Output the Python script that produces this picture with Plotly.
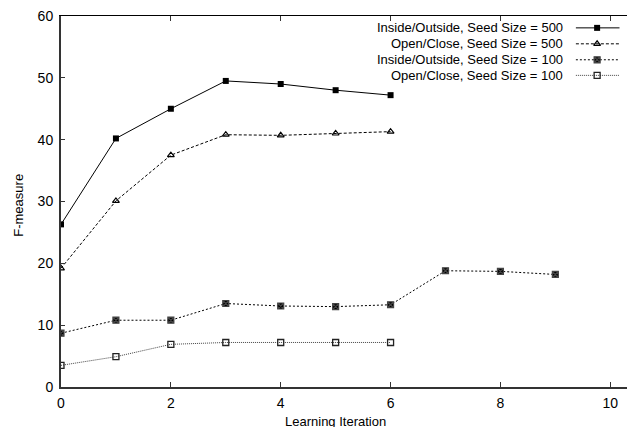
import plotly.graph_objects as go

iterations_a = [0, 1, 2, 3, 4, 5, 6]
iterations_b = [0, 1, 2, 3, 4, 5, 6, 7, 8, 9]
inout_500 = [26.3, 40.2, 45.0, 49.5, 49.0, 48.0, 47.2]
openclose_500 = [19.2, 30.1, 37.5, 40.8, 40.7, 41.0, 41.3]
inout_100 = [8.7, 10.8, 10.8, 13.5, 13.1, 13.0, 13.3, 18.8, 18.7, 18.2]
openclose_100 = [3.5, 4.9, 6.9, 7.2, 7.2, 7.2, 7.2]
series_names = [
    "Inside/Outside, Seed Size = 500",
    "Open/Close, Seed Size = 500",
    "Inside/Outside, Seed Size = 100",
    "Open/Close, Seed Size = 100",
]
x_ticks = [0, 2, 4, 6, 8, 10]
y_ticks = [0, 10, 20, 30, 40, 50, 60]

FONT = "Liberation Sans, Arial, Helvetica, sans-serif"
FS = 13
FS_TICK = 14

styles = [
    dict(line=dict(color="black", width=1, dash="solid"),
         marker=dict(symbol="square", size=6, color="black")),
    dict(line=dict(color="black", width=1, dash="3px,2px"),
         marker=dict(symbol="triangle-up-open", size=6, color="black", line=dict(width=1.2, color="black"))),
    dict(line=dict(color="black", width=1, dash="2px,2px"),
         marker=dict(symbol="square-x", size=6, color="black", line=dict(width=1.2, color="#444"))),
    dict(line=dict(color="#444", width=1, dash="1px,1px"),
         marker=dict(symbol="square-open", size=6, color="#222", line=dict(width=1.3, color="#222"))),
]
xs_list = [iterations_a, iterations_a, iterations_b, iterations_a]
ys_list = [inout_500, openclose_500, inout_100, openclose_100]

fig = go.Figure()
for xs, ys, st in zip(xs_list, ys_list, styles):
    fig.add_trace(go.Scatter(x=xs, y=ys, mode="lines+markers", line=st["line"],
                             marker=st["marker"], showlegend=False, hoverinfo="skip"))

# dummy trace so mirrored axes render
fig.add_trace(go.Scatter(x=[None], y=[None], xaxis="x2", yaxis="y2", showlegend=False))

# custom legend (symbol on the right of text), in an overlay 0..1 axis
leg_rows_y = [0.968, 0.925, 0.882, 0.840]
leg_text_x = 0.878
leg_line_x0, leg_line_x1, leg_mark_x = 0.897, 0.973, 0.934
annotations = []
for name, st, ly in zip(series_names, styles, leg_rows_y):
    fig.add_trace(go.Scatter(x=[leg_line_x0, leg_line_x1], y=[ly, ly], mode="lines",
                             line=st["line"], xaxis="x3", yaxis="y3",
                             showlegend=False, hoverinfo="skip"))
    fig.add_trace(go.Scatter(x=[leg_mark_x], y=[ly], mode="markers",
                             marker=st["marker"], xaxis="x3", yaxis="y3",
                             showlegend=False, hoverinfo="skip"))
    annotations.append(dict(x=leg_text_x, y=ly, xref="paper", yref="paper",
                            text=name, showarrow=False, xanchor="right", yanchor="middle",
                            font=dict(family=FONT, size=FS, color="black")))

annotations.append(dict(x=0.478, y=-0.093, xref="paper", yref="paper", text="Learning Iteration",
                        showarrow=False, xanchor="center", yanchor="middle",
                        font=dict(family=FONT, size=FS, color="black")))
annotations.append(dict(x=-0.074, y=0.49, xref="paper", yref="paper", text="F-measure",
                        showarrow=False, xanchor="center", yanchor="middle", textangle=-90,
                        font=dict(family=FONT, size=FS, color="black")))

x_range = [0, 10.45]
y_range = [0, 60]

# the page body has an 8px margin, so the figure is shrunk by 8px on each leading side
fig.update_layout(
    width=627, height=419,
    margin=dict(l=53, r=0, t=5, b=40, pad=0),
    paper_bgcolor="white", plot_bgcolor="white",
    font=dict(family=FONT, size=FS, color="black"),
    annotations=annotations,
    xaxis=dict(range=x_range, tickvals=x_ticks, ticks="inside", ticklen=5, tickwidth=1,
               tickcolor="#333", showline=True, linewidth=2, linecolor="#333",
               showgrid=False, zeroline=False, ticklabelstandoff=2, ticklabeloverflow="allow",
               tickfont=dict(family=FONT, size=FS_TICK, color="black")),
    yaxis=dict(range=y_range, tickvals=y_ticks, ticks="inside", ticklen=4, tickwidth=1,
               tickcolor="#333", showline=True, linewidth=2, linecolor="#333",
               showgrid=False, zeroline=False, ticklabelstandoff=3, ticklabeloverflow="allow",
               tickfont=dict(family=FONT, size=FS_TICK, color="black")),
    xaxis2=dict(range=x_range, overlaying="x", side="top", tickvals=x_ticks, ticks="inside",
                ticklen=5, tickcolor="#333", showline=True, linewidth=1, linecolor="black",
                showticklabels=False, showgrid=False, zeroline=False),
    yaxis2=dict(range=y_range, overlaying="y", side="right", tickvals=y_ticks, ticks="inside",
                ticklen=4, tickcolor="#333", showline=False, showticklabels=False,
                showgrid=False, zeroline=False),
    xaxis3=dict(range=[0, 1], overlaying="x", visible=False),
    yaxis3=dict(range=[0, 1], overlaying="y", visible=False),
)

fig.write_html("out.html")
